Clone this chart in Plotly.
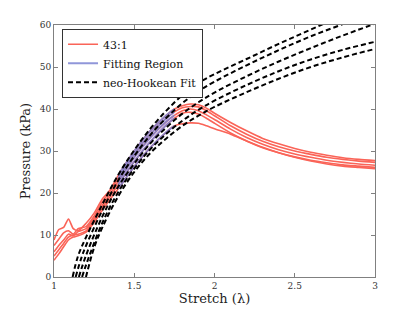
import plotly.graph_objects as go

# ---- experimental curves (43:1) ----
lam_exp = [1.0, 1.03, 1.06, 1.09, 1.12, 1.15, 1.2, 1.25, 1.3, 1.35, 1.4, 1.5, 1.6, 1.7, 1.75,
           1.8, 1.85, 1.9, 1.95, 2.0, 2.1, 2.2, 2.3, 2.4, 2.5, 2.6, 2.7, 2.8, 2.9, 3.0]
exp1 = [8.8, 11.3, 11.8, 13.8, 11.5, 11.0, 12.8, 15.2, 18.5, 20.8, 24.2, 30.0, 34.8, 38.5, 40.0,
        40.8, 41.2, 41.0, 40.2, 39.0, 36.8, 34.8, 33.0, 31.7, 30.6, 29.7, 29.0, 28.4, 28.0, 27.7]
exp2 = [7.5, 9.0, 10.5, 11.0, 10.2, 11.5, 12.0, 14.5, 17.8, 20.5, 23.5, 29.3, 34.0, 37.8, 39.3,
        40.3, 40.6, 40.5, 39.6, 38.4, 36.0, 34.0, 32.3, 31.0, 30.0, 29.2, 28.5, 28.0, 27.6, 27.3]
exp3 = [6.0, 7.5, 8.8, 10.2, 9.8, 10.8, 11.5, 14.0, 17.0, 19.8, 22.8, 28.5, 33.2, 37.0, 38.5,
        39.6, 40.0, 39.6, 38.6, 37.5, 35.2, 33.2, 31.6, 30.3, 29.3, 28.5, 27.8, 27.3, 26.9, 26.6]
exp4 = [5.0, 6.5, 8.0, 9.5, 10.0, 10.2, 11.0, 13.5, 16.5, 19.2, 22.0, 27.5, 32.2, 36.2, 37.8,
        39.0, 39.2, 38.8, 37.8, 36.6, 34.3, 32.4, 30.8, 29.6, 28.6, 27.8, 27.2, 26.7, 26.4, 26.1]
exp5 = [4.0, 5.5, 7.2, 8.8, 9.5, 9.8, 10.7, 13.0, 15.8, 18.5, 21.0, 26.3, 30.8, 34.5, 36.0,
        36.5, 36.7, 36.6, 36.0, 35.3, 34.0, 32.4, 30.9, 29.6, 28.5, 27.6, 26.9, 26.4, 26.1, 25.8]
exp_curves = [exp1, exp2, exp3, exp4, exp5]

fit_lo, fit_hi = 1.4, 1.75   # fitting region bounds

# ---- neo-Hookean fits ----
fitA_x = [1.116, 1.15, 1.2, 1.3, 1.4, 1.5, 1.6, 1.7, 1.8, 1.9, 2.0, 2.2, 2.4, 2.6, 2.8, 3.0]
fitA_y = [0, 5.0, 9.5, 17.2, 24.3, 30.2, 35.3, 39.6, 43.3, 46.2, 48.3, 51.9, 55.5, 58.9, 62.3, 65.5]
fitB_x = [1.135, 1.17, 1.2, 1.3, 1.4, 1.5, 1.6, 1.7, 1.8, 1.9, 2.0, 2.2, 2.4, 2.6, 2.8, 3.0]
fitB_y = [0, 4.5, 7.5, 15.8, 23.0, 28.8, 33.8, 37.9, 41.4, 44.2, 46.5, 50.4, 54.0, 57.3, 60.2, 63.0]
fitC_x = [1.155, 1.2, 1.3, 1.4, 1.5, 1.6, 1.7, 1.8, 1.9, 2.0, 2.2, 2.4, 2.6, 2.8, 3.0]
fitC_y = [0, 5.2, 14.3, 21.5, 27.0, 31.8, 35.6, 38.9, 41.6, 43.9, 47.8, 51.3, 54.5, 57.5, 60.3]
fitD_x = [1.175, 1.2, 1.3, 1.4, 1.5, 1.6, 1.7, 1.8, 1.9, 2.0, 2.2, 2.4, 2.6, 2.8, 3.0]
fitD_y = [0, 2.9, 12.8, 20.2, 25.8, 30.4, 34.1, 37.2, 39.8, 42.0, 45.7, 49.0, 51.8, 54.1, 56.0]
fitE_x = [1.199, 1.25, 1.3, 1.4, 1.5, 1.6, 1.7, 1.8, 1.9, 2.0, 2.2, 2.4, 2.6, 2.8, 3.0]
fitE_y = [0, 7.0, 11.7, 19.2, 25.0, 29.5, 33.0, 36.0, 38.4, 40.5, 44.0, 47.2, 50.0, 52.3, 54.3]
fits = [(fitA_x, fitA_y), (fitB_x, fitB_y), (fitC_x, fitC_y), (fitD_x, fitD_y), (fitE_x, fitE_y)]

x_ticks = [1, 1.5, 2, 2.5, 3]
x_tick_labels = ["1", "1.5", "2", "2.5", "3"]
y_ticks = [0, 10, 20, 30, 40, 50, 60]

RED = "rgb(250,100,88)"
BLUE = "rgba(125,132,210,0.85)"
FONT = "DejaVu Serif"

fig = go.Figure()
for i, ys in enumerate(exp_curves):
    fig.add_trace(go.Scatter(x=lam_exp, y=ys, mode="lines", line=dict(color=RED, width=1.6, shape="spline", smoothing=0.6),
                             name="43:1", legendgroup="exp", showlegend=(i == 0)))
for i, ys in enumerate(exp_curves):
    xs = [x for x in lam_exp if fit_lo <= x <= fit_hi]
    yy = [y for x, y in zip(lam_exp, ys) if fit_lo <= x <= fit_hi]
    fig.add_trace(go.Scatter(x=xs, y=yy, mode="lines", line=dict(color=BLUE, width=2, shape="spline"),
                             name="Fitting Region", legendgroup="fit", showlegend=(i == 0)))
for i, (xs, ys) in enumerate(fits):
    fig.add_trace(go.Scatter(x=xs, y=ys, mode="lines", line=dict(color="black", width=2, dash="5px,3px", shape="spline"),
                             name="neo-Hookean Fit", legendgroup="nh", showlegend=(i == 0)))

axis_common = dict(showgrid=False, zeroline=False, showline=True, linecolor="#808080", linewidth=1,
                   mirror="ticks", ticks="inside", ticklen=4, tickcolor="#808080",
                   tickfont=dict(family=FONT, size=9, color="#333"))
fig.update_xaxes(range=[1, 3], tickvals=x_ticks, ticktext=x_tick_labels,
                 title=dict(text="Stretch (λ)", font=dict(family=FONT, size=13, color="#222"), standoff=4),
                 **axis_common)
fig.update_yaxes(range=[0, 60], tickvals=y_ticks,
                 title=dict(text="Pressure (kPa)", font=dict(family=FONT, size=13, color="#222"), standoff=6),
                 **axis_common)
fig.update_layout(
    width=415, height=312,
    margin=dict(l=46, r=48, t=15, b=43),
    paper_bgcolor="white", plot_bgcolor="white",
    font=dict(family=FONT),
    legend=dict(x=0.025, y=0.985, xanchor="left", yanchor="top", bgcolor="white",
                bordercolor="#333", borderwidth=1, font=dict(family=FONT, size=11, color="#111"),
                tracegroupgap=0, itemwidth=30),
    showlegend=True,
)
fig.write_html("out.html")
